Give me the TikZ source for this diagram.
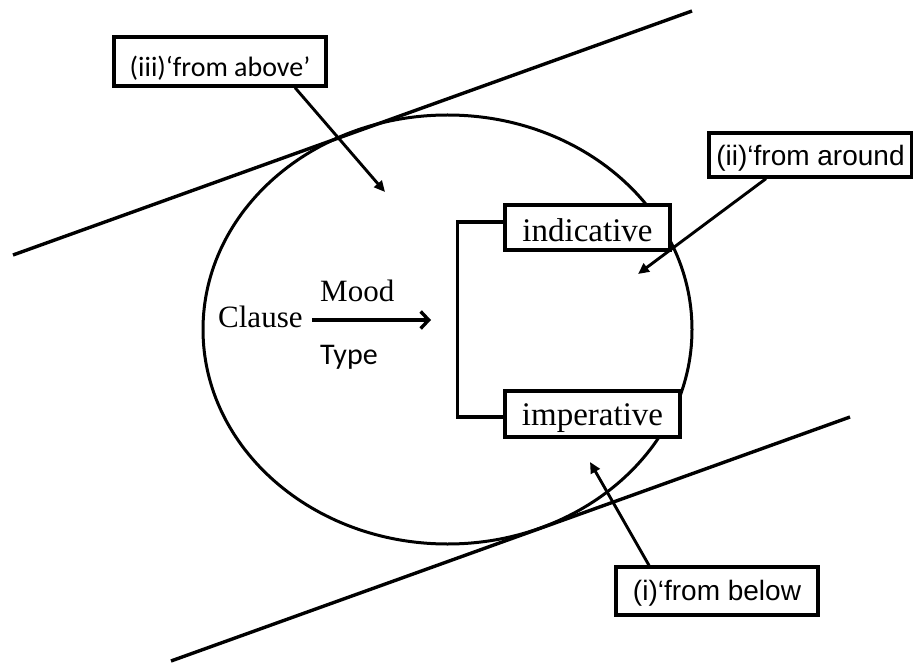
\documentclass[tikz,border=0pt]{standalone}
\usepackage{fontspec}
\setmainfont{Liberation Serif}
\newfontfamily\calibrilike{Carlito}
\newfontfamily\arialike{Liberation Sans}
\usetikzlibrary{arrows.meta,shapes.geometric}

\begin{document}
\begin{tikzpicture}[x=1pt,y=-1pt,
  tangent/.style={line width=3.4pt},
  region/.style={draw, ellipse, line width=3pt, inner sep=0pt},
  labelbox/.style={draw, fill=white, line width=3.3pt, inner sep=0pt, align=center},
  txtbase/.style={text height=#1, text depth=0pt},
  serifword/.style={font=\fontsize{31pt}{36pt}\selectfont, inner sep=0pt, anchor=base west},
  systemword/.style={font=\fontsize{33pt}{38pt}\selectfont},
  sanslabel/.style={font=\arialike\fontsize{28pt}{33pt}\selectfont},
  roundlabel/.style={font=\calibrilike\fontsize{28pt}{33pt}\selectfont},
  pointer/.style={line width=2.9pt, -{Triangle[length=11pt,width=10pt]}},
  feature/.style={line width=3.4pt, -{Straight Barb[length=8pt,width=17pt]}},
  bracket/.style={line width=3.4pt}
]
\useasboundingbox (0,0) rectangle (913,663);

% the two parallel tangents
\coordinate (ta1) at (13,255);
\coordinate (ta2) at (692,11);
\coordinate (tb1) at (171,661);
\coordinate (tb2) at (850,417);
\draw[tangent] (ta1) -- (ta2);
\draw[tangent] (tb1) -- (tb2);

% the clause-type region
\node[region, minimum width=489pt, minimum height=429pt] (ell) at (447.5,329.5) {};

% system: Clause --Mood Type--> [ indicative / imperative ]
\node[serifword] (clause) at (218,327) {Clause};
\node[serifword] (mood) at (320,301) {Mood};
\node[roundlabel, font=\calibrilike\fontsize{30pt}{35pt}\selectfont, inner sep=0pt, anchor=base west] (type) at (320,364) {Type};
\coordinate (entry) at (431,320);
\draw[feature] ([xshift=9pt]clause.east |- entry) -- (entry);

\node[labelbox, systemword, txtbase=29pt, minimum width=165pt, minimum height=45pt] (indic) at (587.5,227.5) {indicative};
\node[labelbox, systemword, txtbase=22pt, minimum width=175pt, minimum height=46pt] (imper) at (592.5,414) {imperative};
\draw[bracket] ([yshift=5.5pt]indic.west) -- ++(-46,0) |- ([yshift=-3pt]imper.west);

% the three perspectives
\node[labelbox, roundlabel, txtbase=31pt, minimum width=212pt, minimum height=49pt] (above) at (220,61.5) {(iii)‘from above’};
\node[labelbox, sanslabel, txtbase=21pt, minimum width=203pt, minimum height=44pt] (around) at (810.5,155) {(ii)‘from around};
\node[labelbox, sanslabel, txtbase=18pt, minimum width=202pt, minimum height=48pt] (below) at (717,591) {(i)‘from below};

\coordinate (aimabove) at (385,192);
\coordinate (aimaround) at (638,274);
\coordinate (aimbelow) at (590,462);
\draw[pointer] ([xshift=75pt]above.south) -- (aimabove);
\draw[pointer] ([xshift=-44.5pt]around.south) -- (aimaround);
\draw[pointer] ([xshift=-68pt]below.north) -- (aimbelow);
\end{tikzpicture}
\end{document}
